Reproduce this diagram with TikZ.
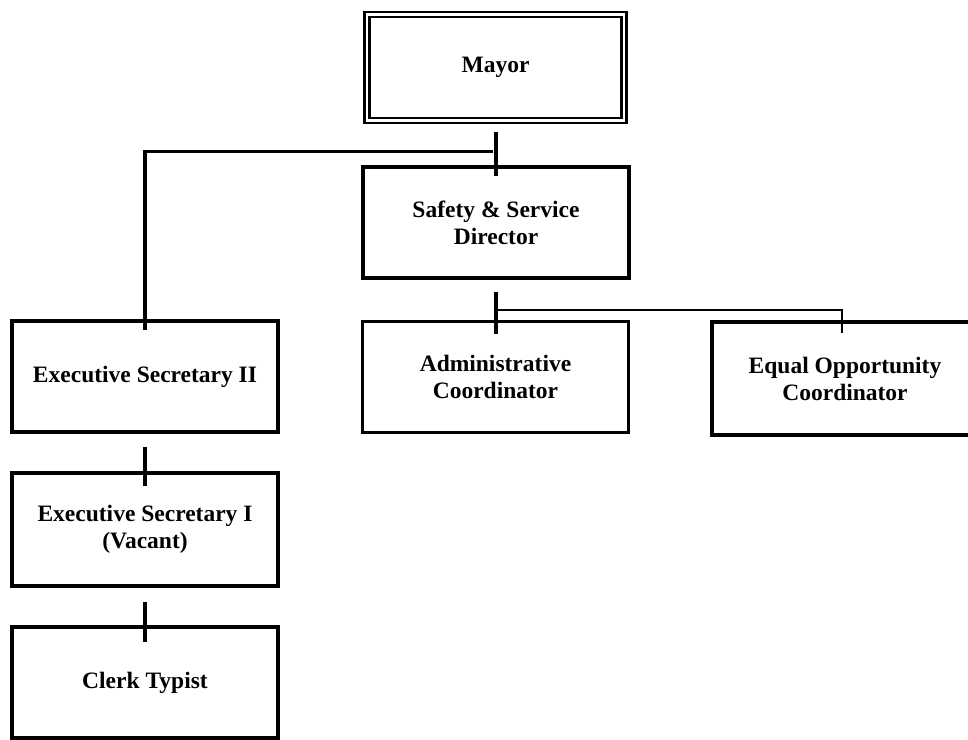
\documentclass[tikz,border=0pt]{standalone}
\usepackage{fontspec}
\setmainfont{Liberation Serif}
\usetikzlibrary{calc}

\tikzset{
  post/.style={draw, line width=3.3pt, rectangle, minimum width=266pt, minimum height=111pt,
    inner sep=0pt, align=center, font=\fontsize{23.5}{27}\selectfont\bfseries},
  headpost/.style={draw, line width=2.8pt, double=white, double distance=2.2pt, rectangle,
    minimum width=257pt, minimum height=106pt, inner sep=0pt, align=center,
    font=\fontsize{23.5}{27}\selectfont\bfseries},
  link/.style={line width=3.3pt},
  thinlink/.style={line width=1.7pt},
}

\begin{document}
\begin{tikzpicture}[x=1pt, y=-1pt]
  \useasboundingbox (0,0) rectangle (968,739);
  \clip (0,0) rectangle (968,739);

  % positions
  \node[headpost] (mayor) at (495.5,67.5) {Mayor};
  \node[post] (safety) at (496,222.5) {Safety \& Service\\Director};
  \node[post] (exec2) at (145,376.5) {Executive Secretary II};
  \node[post] (admin) at (495.5,377) {Administrative\\Coordinator};
  \node[post, minimum height=113pt] (equal) at (845,378.5) {Equal Opportunity\\Coordinator};
  \node[post, minimum height=113pt] (exec1) at (145,529.5) {Executive Secretary I\\(Vacant)};
  \node[post] (clerk) at (145,682.5) {Clerk Typist};

  % reporting lines
  \draw[link] ($(mayor.south)+(0.5,10.5)$) -- ($(safety.north)+(0,11)$);
  \draw[link] ($(safety.north)+(-3,-14)$) -| ($(exec2.north)+(0,11)$);
  \draw[link] ($(safety.south)+(0,12)$) -- ($(admin.north)+(0.5,14)$);
  \draw[thinlink] ($(admin.north)+(0.5,-10)$) -| ($(equal.north)+(-3,13)$);
  \draw[link] ($(exec2.south)+(0,13)$) -- ($(exec1.north)+(0,15)$);
  \draw[link] ($(exec1.south)+(0,14)$) -- ($(clerk.north)+(0,17)$);
\end{tikzpicture}
\end{document}
